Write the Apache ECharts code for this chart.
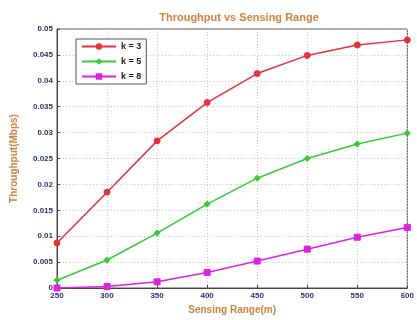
<!DOCTYPE html>
<html><head><meta charset="utf-8">
<script src="https://cdn.jsdelivr.net/npm/echarts@6/dist/echarts.min.js"></script>
<style>html,body{margin:0;padding:0;background:#fff}#c{width:417px;height:320px}</style>
</head><body><div id="c"></div>
<script>
const categories = [250, 300, 350, 400, 450, 500, 550, 600];
const k3 = [0.0087, 0.0185, 0.0284, 0.0358, 0.0414, 0.0449, 0.0469, 0.0479];
const k5 = [0.0015, 0.0054, 0.0106, 0.0162, 0.0212, 0.0250, 0.0278, 0.0299];
const k8 = [0.0000, 0.0003, 0.0012, 0.0030, 0.0052, 0.0075, 0.0098, 0.0117];
const seriesNames = ['k = 3', 'k = 5', 'k = 8'];
const yTicks = ['0', '0.005', '0.01', '0.015', '0.02', '0.025', '0.03', '0.035', '0.04', '0.045', '0.05'];

const chart = echarts.init(document.getElementById('c'));
const labelFont = {color: '#2b2f6e', fontSize: 8, fontWeight: 'bold', fontFamily: 'Liberation Sans'};
const gridLine = {show: true, lineStyle: {color: '#c8c8c8', type: [1, 2], width: 1}};
function mk(name, data, color, symbol, size) {
  return {
    name, type: 'line', data: categories.map((c, i) => [c, data[i]]),
    symbol, symbolSize: size,
    lineStyle: {color, width: 1.5},
    itemStyle: {color, borderColor: color},
  };
}
chart.setOption({
  animation: false,
  backgroundColor: '#fff',
  title: {
    text: 'Throughput vs Sensing Range', left: 234, top: 7, textAlign: 'center',
    textStyle: {color: '#d0823e', fontSize: 11, fontWeight: 'bold', fontFamily: 'Liberation Sans'}
  },
  grid: {left: 57, right: 6, top: 29, bottom: 32, show: true, borderColor: '#555', borderWidth: 1, backgroundColor: 'transparent'},
  legend: {
    orient: 'vertical', left: 76, top: 39,
    backgroundColor: '#fff', borderColor: '#555', borderWidth: 1, padding: [3, 5, 3, 5],
    itemWidth: 34, itemHeight: 8, itemGap: 6,
    textStyle: {color: '#222', fontSize: 9, fontWeight: 'bold', fontFamily: 'Liberation Sans'},
    data: seriesNames
  },
  xAxis: {
    type: 'value', min: 250, max: 600, interval: 50,
    name: 'Sensing Range(m)', nameLocation: 'middle', nameGap: 17,
    nameTextStyle: {color: '#d0823e', fontSize: 10, fontWeight: 'bold', fontFamily: 'Liberation Sans'},
    axisLine: {show: true, lineStyle: {color: '#444'}},
    axisTick: {show: true, inside: true, length: 3, lineStyle: {color: '#444'}},
    axisLabel: Object.assign({margin: 4}, labelFont),
    splitLine: gridLine
  },
  yAxis: {
    type: 'value', min: 0, max: 0.05, interval: 0.005,
    name: 'Throughput(Mbps)', nameLocation: 'middle', nameGap: 38,
    nameTextStyle: {color: '#d0823e', fontSize: 10, fontWeight: 'bold', fontFamily: 'Liberation Sans'},
    axisLine: {show: true, lineStyle: {color: '#444'}},
    axisTick: {show: true, inside: true, length: 3, lineStyle: {color: '#444'}},
    axisLabel: Object.assign({margin: 4, formatter: (v, i) => yTicks[i]}, labelFont),
    splitLine: gridLine
  },
  series: [
    mk(seriesNames[0], k3, '#e8303a', 'circle', 6),
    mk(seriesNames[1], k5, '#33cc33', 'diamond', 6),
    mk(seriesNames[2], k8, '#e020e0', 'rect', 6)
  ]
});
</script></body></html>
